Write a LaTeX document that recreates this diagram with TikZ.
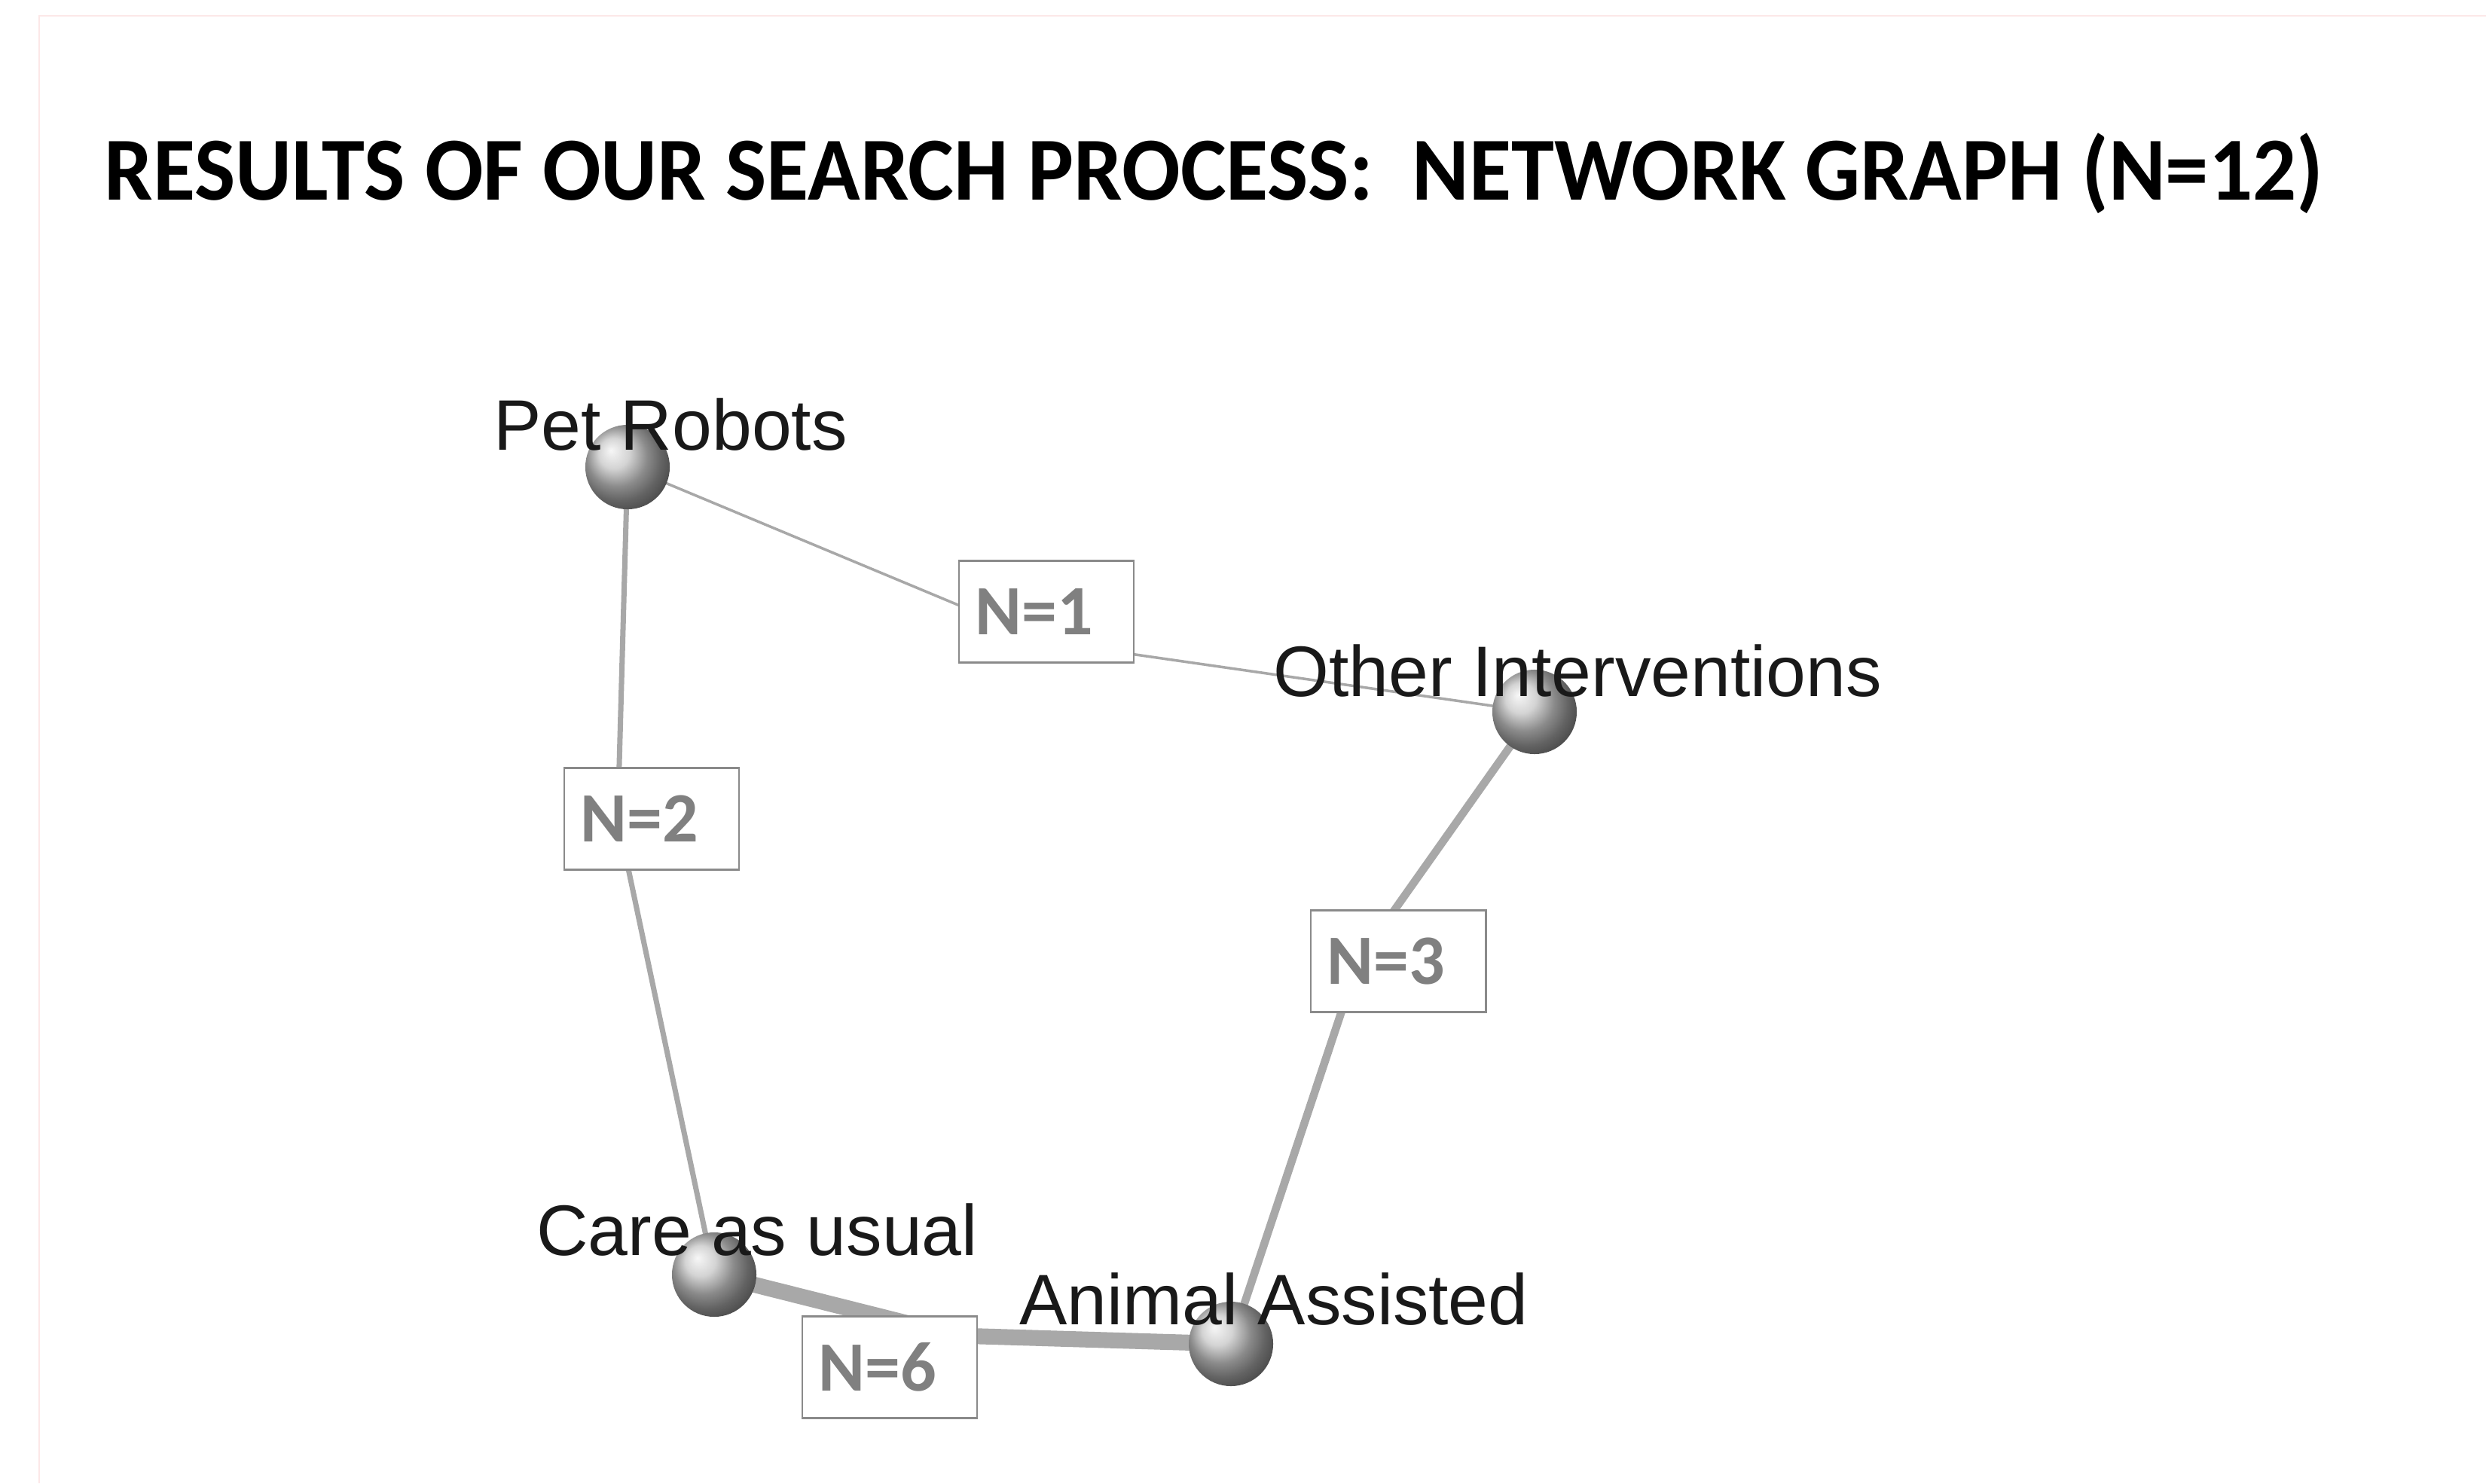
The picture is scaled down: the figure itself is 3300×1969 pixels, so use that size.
\documentclass[tikz,border=0pt]{standalone}
\usepackage{fontspec}
\newfontfamily\calibri{Carlito}
\newfontfamily\calibrititle{Carlito}[FakeStretch=0.96]
\newfontfamily\arial{Liberation Sans}
\usetikzlibrary{backgrounds}
\definecolor{linkgray}{HTML}{A8A8A8}
\definecolor{boxgray}{HTML}{8A8A8A}
\definecolor{countgray}{HTML}{808080}
\definecolor{framepink}{HTML}{FCE8E8}
\tikzset{
  sphere/.style={circle, minimum size=1.12cm, inner sep=0pt, shading=ball, ball color=gray!45},
  tag/.style={anchor=base, inner sep=0pt, text=black!90, font=\arial\fontsize{27}{32}\selectfont},
  count/.style={draw=boxgray, line width=0.8pt, fill=white, text=countgray,
    font=\calibri\bfseries\fontsize{26.7}{32}\selectfont,
    text width=1.88cm, align=left, inner xsep=0.22cm, minimum height=1.35cm},
  link/.style={draw=linkgray, line width=#1},
}
\begin{document}
\begin{tikzpicture}[x=0.01cm, y=-0.01cm]
  \useasboundingbox (0,0) rectangle (3300,1969);
  \draw[framepink, line width=0.8pt] (52,1969) -- (52,21) -- (3300,21);

  \node[anchor=base west, inner sep=0pt, font=\calibrititle\bfseries\fontsize{34}{40}\selectfont] (title) at (138,265)
    {RESULTS OF OUR SEARCH PROCESS:\ \ NETWORK GRAPH (N=12)};

  \node[sphere] (pet) at (833,620) {};
  \node[sphere] (other) at (2037,945) {};
  \node[sphere] (care) at (948,1692) {};
  \node[sphere] (animal) at (1634,1784) {};

  \node[count] (n1) at (1389,812) {N=1};
  \node[count] (n2) at (865,1087) {N=2};
  \node[count] (n3) at (1856,1276) {N=3};
  \node[count] (n6) at (1181,1815) {N=6};

  \coordinate (v1) at (1389,852);
  \coordinate (v2) at (820,1087);
  \coordinate (v3) at (1803,1276);
  \coordinate (v6) at (1270,1773);

  \begin{scope}[on background layer]
    \path
    (pet.center) edge[link=1pt] (v1)
    (v1) edge[link=1pt] (other.center)
    (pet.center) edge[link=2pt] (v2)
    (v2) edge[link=2pt] (care.center)
    (other.center) edge[link=3pt] (v3)
    (v3) edge[link=3pt] (animal.center)
    (care.center) edge[link=6pt] (v6)
    (v6) edge[link=6pt] (animal.center);
  \end{scope}

  \node[tag] (petlbl) at ([shift={(57,-23)}]pet.center) {Pet Robots};
  \node[tag] (otherlbl) at ([shift={(57,-21)}]other.center) {Other Interventions};
  \node[tag] (carelbl) at ([shift={(57,-26)}]care.center) {Care as usual};
  \node[tag] (animallbl) at ([shift={(57,-26)}]animal.center) {Animal Assisted};
\end{tikzpicture}
\end{document}
